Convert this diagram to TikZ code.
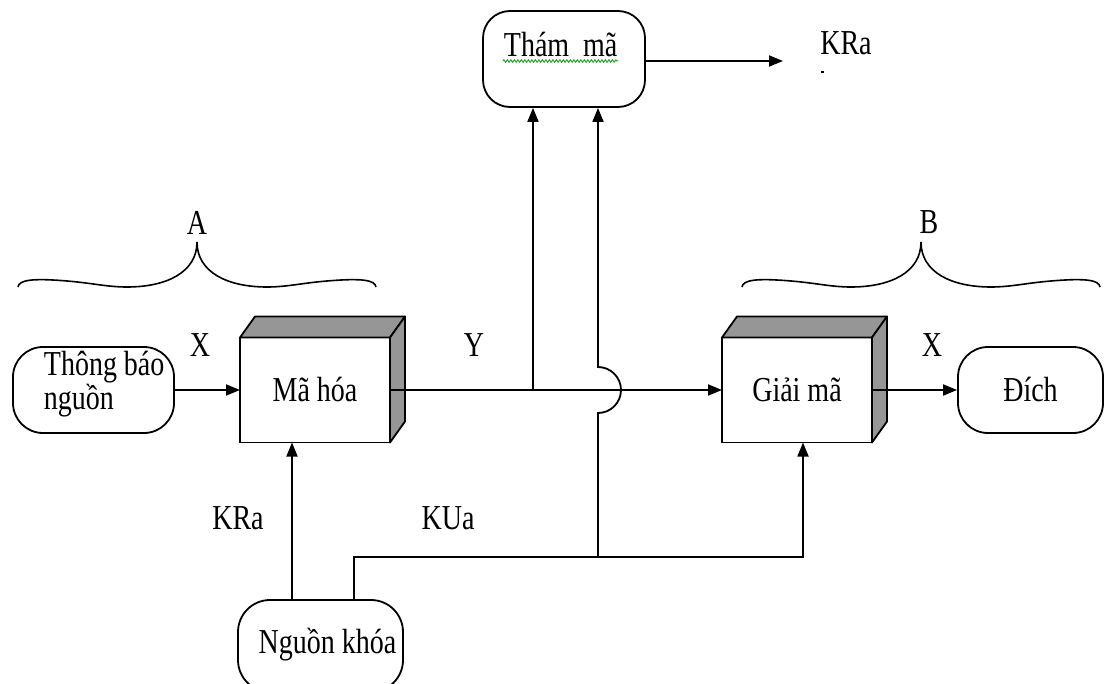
\documentclass[tikz,border=0pt]{standalone}
\usepackage{fontspec}
\setmainfont[FakeStretch=0.8]{Liberation Serif}
\usetikzlibrary{arrows.meta,decorations.pathmorphing,calc}

\definecolor{facegray}{RGB}{150,150,150}
\definecolor{spellgreen}{RGB}{40,165,40}

\begin{document}
\begin{tikzpicture}[x=1bp,y=-1bp,
  font=\fontsize{35bp}{28bp}\selectfont,
  line width=1.8bp,
  >={Triangle[length=14bp,width=11bp]},
  roundbox/.style={draw, rounded corners=30bp, inner sep=0pt},
  cubefront/.style={draw, fill=white, minimum width=150bp, minimum height=105bp,
                    inner sep=0pt, outer sep=0pt},
  face/.style={draw, fill=facegray, line join=round},
  lbl/.style={inner sep=0pt},
  pics/curlybrace/.style={code={
    \draw[line width=1.6bp]
      (-179,45) .. controls (-178,38) and (-165,36) .. (-130,39)
      .. controls (-105,41) and (-90,45) .. (-70,45)
      .. controls (-30,45) and (0,30) .. (0,0)
      .. controls (0,30) and (30,45) .. (70,45)
      .. controls (90,45) and (105,41) .. (130,39)
      .. controls (165,36) and (178,38) .. (179,45);
  }},
]
\useasboundingbox (0,0) rectangle (1119,684);
\clip (0,0) rectangle (1119,684);

% ---- cryptanalyst box -------------------------------------------------
\node[roundbox, rounded corners=27bp, minimum width=162bp, minimum height=96bp] (tham) at (564,59) {};
\node[lbl, anchor=base west] (thamtxt) at (503,57) {Thám~~mã};
\draw[spellgreen, line width=1bp, decorate,
      decoration={zigzag, segment length=3.5bp, amplitude=1.2bp}]
  ($(thamtxt.base west)+(0,4)$) -- ($(thamtxt.base east)+(0,4)$);
\coordinate (kraout) at (783,61);
\draw[->] (tham.east |- kraout) -- (kraout);
\node[lbl] (kratop) at (846,43) {KRa};
\node[fill=black, inner sep=0pt, minimum width=3bp, minimum height=2bp] (kradot) at (822,72) {};

% ---- braces for the two parties --------------------------------------
\pic at (197,242) {curlybrace};
\node[lbl] (lblA) at (197,223) {A};
\pic at (921,242) {curlybrace};
\node[lbl] (lblB) at (929,222) {B};

% ---- source message ---------------------------------------------------
\node[roundbox, minimum width=161bp, minimum height=86bp] (src) at (93.5,390) {};
\node[lbl, anchor=base west] (srctxt1) at (43,375) {Thông báo};
\node[lbl, anchor=base west] (srctxt2) at (43,409) {nguồn};

% ---- encryption cube --------------------------------------------------
\node[cubefront] (enc) at (315,390) {Mã hóa};
\draw[face] (enc.north west) -- ++(15,-21) -- ([shift={(15,-21)}]enc.north east)
  -- (enc.north east) -- cycle;
\draw[face] (enc.north east) -- ([shift={(15,-21)}]enc.north east)
  -- ([shift={(15,-21)}]enc.south east) -- (enc.south east) -- cycle;

% ---- decryption cube --------------------------------------------------
\node[cubefront] (dec) at (797,390) {Giải mã};
\draw[face] (dec.north west) -- ++(15,-21) -- ([shift={(15,-21)}]dec.north east)
  -- (dec.north east) -- cycle;
\draw[face] (dec.north east) -- ([shift={(15,-21)}]dec.north east)
  -- ([shift={(15,-21)}]dec.south east) -- (dec.south east) -- cycle;

% ---- destination and key source --------------------------------------
\node[roundbox, minimum width=145bp, minimum height=86bp] (dst) at (1030.5,390) {Đích};
\node[roundbox, rounded corners=32bp, minimum width=165bp, minimum height=92bp] (key) at (320.5,646) {};
\node[lbl] (keytxt) at (327.5,645) {Nguồn khóa};

% ---- labels -----------------------------------------------------------
\node[lbl] (lblX1) at (200,345) {X};
\node[lbl] (lblY) at (474,345) {Y};
\node[lbl] (lblX2) at (932,345) {X};
\node[lbl] (lblKRa) at (238,518) {KRa};
\node[lbl] (lblKUa) at (448,518) {KUa};

% ---- connectors -------------------------------------------------------
\draw[->] (src.east) -- (enc.west);
\draw[->] (enc.east) -- (dec.west);
\draw[->] (dec.east) -- (dst.west);

% tap on the ciphertext line towards the cryptanalyst
\coordinate (tapY) at (533,390);
\draw[->] (tapY) -- (tapY |- tham.south);

% private key into the encryptor
\coordinate (kraX) at (292,500);
\draw[->] (kraX |- key.north) -- (kraX |- enc.south);

% public key to the decryptor, with a branch to the cryptanalyst
\coordinate (kuTurn) at (354,557);
\coordinate (kuJoin) at (598,557);
\coordinate (kuEnd) at (803,557);
\draw[->] (kuTurn |- key.north) -- (kuTurn) -- (kuEnd) -- (kuEnd |- dec.south);
\draw[->] (kuJoin) -- ($(kuJoin |- enc.east)+(0,23)$)
  arc[start angle=90, end angle=-90, radius=23]
  -- (kuJoin |- tham.south);
\end{tikzpicture}
\end{document}
